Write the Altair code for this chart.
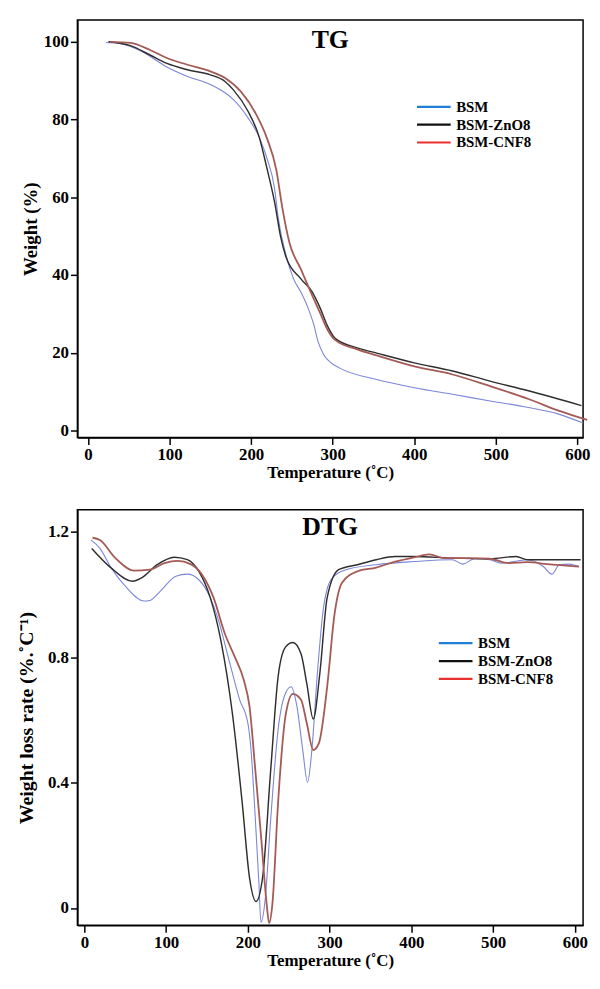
import altair as alt
import pandas as pd

series = ["BSM", "BSM-ZnO8", "BSM-CNF8"]
line_colors = ["#7c86d8", "#2e2e2e", "#a45a55"]
line_widths = [1.1, 1.8, 1.3]
legend_colors = ["#1f7fd8", "#111111", "#e83030"]

x_ticks = [0, 100, 200, 300, 400, 500, 600]
tg_y_ticks = [0, 20, 40, 60, 80, 100]
dtg_y_ticks = [0, 0.4, 0.8, 1.2]

# ---- TG (weight %) ----
tg_bsm_t = [22, 40, 66, 96, 122, 150, 168, 178, 196, 210, 219, 229, 233, 243, 252, 261, 270, 277, 282, 289, 298, 308, 354, 400, 447, 493, 540, 577, 607]
tg_bsm_w = [99.8, 99.5, 97.5, 93.6, 91.1, 89.0, 86.9, 85.2, 80.5, 75.4, 70.3, 61.9, 55.0, 44.9, 39.0, 35.6, 31.4, 27.1, 22.9, 19.5, 17.4, 16.1, 13.1, 11.0, 9.3, 7.6, 5.9, 4.2, 1.9]

tg_zno_t = [25, 52, 76, 96, 122, 150, 168, 178, 196, 210, 219, 229, 236, 243, 261, 275, 284, 294, 303, 331, 354, 400, 447, 493, 540, 605]
tg_zno_w = [100.0, 99.0, 96.6, 94.5, 92.8, 91.5, 89.8, 87.7, 82.2, 75.4, 67.8, 58.5, 50.0, 44.5, 39.0, 35.6, 31.8, 26.7, 23.7, 21.2, 19.9, 17.4, 15.3, 12.7, 10.2, 6.4]

tg_cnf_t = [27, 52, 76, 96, 122, 150, 168, 187, 206, 219, 231, 238, 247, 261, 275, 284, 294, 303, 331, 354, 400, 447, 493, 540, 577, 612]
tg_cnf_w = [100.0, 99.7, 97.9, 95.9, 94.1, 92.4, 90.7, 87.3, 81.4, 75.4, 66.9, 57.6, 48.3, 41.5, 34.7, 30.5, 25.8, 23.3, 20.8, 19.3, 16.5, 14.4, 11.4, 8.1, 5.1, 2.7]

# ---- DTG (weight loss rate) ----
dtg_bsm_t = [8, 19, 33, 52, 73, 80, 93, 112, 126, 140, 154, 163, 177, 190, 200, 204, 209, 213.5, 216, 221, 228, 237, 246, 253, 260, 267, 273, 278, 285, 292, 302, 320, 357, 403, 450, 463, 477, 496, 510, 542, 561, 572, 581, 593, 605]
dtg_bsm_v = [1.174, 1.147, 1.084, 1.021, 0.979, 0.981, 1.011, 1.058, 1.065, 1.047, 0.99, 0.927, 0.79, 0.664, 0.59, 0.50, 0.29, 0.08, -0.045, 0.023, 0.286, 0.57, 0.685, 0.706, 0.643, 0.506, 0.401, 0.496, 0.748, 0.948, 1.048, 1.079, 1.095, 1.105, 1.111, 1.097, 1.114, 1.111, 1.10, 1.111, 1.09, 1.065, 1.095, 1.097, 1.089]

dtg_zno_t = [9, 33, 59, 70, 89, 110, 126, 140, 154, 167, 181, 193, 202, 210, 218, 228, 237, 246, 255, 265, 272, 280, 288, 297, 311, 334, 357, 380, 403, 450, 496, 528, 542, 607]
dtg_zno_v = [1.147, 1.084, 1.042, 1.053, 1.095, 1.119, 1.111, 1.074, 0.99, 0.853, 0.622, 0.338, 0.097, 0.021, 0.097, 0.443, 0.738, 0.832, 0.847, 0.811, 0.717, 0.603, 0.748, 0.99, 1.079, 1.095, 1.111, 1.121, 1.121, 1.116, 1.114, 1.121, 1.111, 1.111]

dtg_cnf_t = [10, 19, 38, 61, 80, 98, 114, 130, 144, 158, 172, 184, 195, 202, 209, 216, 223, 226, 230, 237, 246, 255, 265, 272, 280, 287, 297, 306, 315, 334, 357, 380, 403, 422, 440, 473, 496, 519, 542, 566, 605]
dtg_cnf_v = [1.181, 1.174, 1.116, 1.076, 1.079, 1.10, 1.107, 1.097, 1.063, 0.99, 0.874, 0.801, 0.727, 0.643, 0.443, 0.233, 0.013, -0.048, 0.013, 0.338, 0.612, 0.683, 0.664, 0.59, 0.504, 0.527, 0.706, 0.937, 1.037, 1.074, 1.086, 1.105, 1.118, 1.128, 1.116, 1.116, 1.114, 1.10, 1.103, 1.097, 1.089]


def long_df(pairs):
    rows = []
    for name, ts, vs in pairs:
        for t, v in zip(ts, vs):
            rows.append({"series": name, "T": t, "v": v})
    return pd.DataFrame(rows)


tg_df = long_df([("BSM", tg_bsm_t, tg_bsm_w), ("BSM-ZnO8", tg_zno_t, tg_zno_w), ("BSM-CNF8", tg_cnf_t, tg_cnf_w)])
dtg_df = long_df([("BSM", dtg_bsm_t, dtg_bsm_v), ("BSM-ZnO8", dtg_zno_t, dtg_zno_v), ("BSM-CNF8", dtg_cnf_t, dtg_cnf_v)])

FONT = "Liberation Serif"
W = 510


def panel(df, title, title_off, xdom, ydom, yvals, ytitle, ytsize, ylabel_expr, ytpad, height, lx, ly, xtpad):
    x = alt.X("T:Q", scale=alt.Scale(domain=xdom, nice=False, zero=False),
              axis=alt.Axis(values=x_ticks, title="Temperature  (˚C)", titlePadding=xtpad, format="d"))
    y = alt.Y("v:Q", scale=alt.Scale(domain=ydom, nice=False, zero=False),
              axis=alt.Axis(values=yvals, title=ytitle, titleFontSize=ytsize,
                            labelExpr=ylabel_expr, titlePadding=ytpad))
    lines = alt.Chart(df).mark_line(interpolate="monotone").encode(
        x=x, y=y,
        color=alt.Color("series:N", scale=alt.Scale(domain=series, range=line_colors), legend=None),
        strokeWidth=alt.StrokeWidth("series:N", scale=alt.Scale(domain=series, range=line_widths), legend=None),
        detail="series:N",
    )
    leg = alt.Chart(df).mark_line(opacity=0).encode(
        x=x, y=y,
        color=alt.Color("series:N", scale=alt.Scale(domain=series, range=legend_colors),
                        legend=alt.Legend(title=None, orient="none", legendX=lx, legendY=ly,
                                          symbolType="M-3,0H3", symbolSize=128, symbolStrokeWidth=2.2,
                                          symbolOpacity=1, labelFont=FONT, labelFontWeight="bold",
                                          labelFontSize=15, labelColor="black", labelOffset=15,
                                          rowPadding=2, padding=0)),
    )
    return alt.layer(lines, leg).resolve_scale(color="independent").properties(
        width=W, height=height,
        title=alt.Title(title, fontSize=26, font=FONT, fontWeight="bold", color="black",
                        anchor="middle", offset=title_off),
    )


top = panel(tg_df, "TG", -33, [-13, 607], [-1.8, 105.6], tg_y_ticks, "Weight (%)", 19,
            "format(datum.value, 'd')", 3, 421, 352, 80, 2)
bottom = panel(dtg_df, "DTG", -30, [-8.5, 610], [-0.055, 1.27], dtg_y_ticks,
               "Weight  loss rate  (%.˚C⁻¹)", 20,
               "datum.value == 0 ? '0' : format(datum.value, '.1f')", 11, 419, 374, 127, 3)

chart = alt.vconcat(top, bottom, spacing=28).properties(
    padding={"top": 7, "left": 8, "right": 0, "bottom": 0}
).configure_view(stroke="black", strokeWidth=1.5).configure_axis(
    grid=False, labelFont=FONT, labelFontWeight="bold", labelFontSize=17, labelColor="black",
    titleFont=FONT, titleFontWeight="bold", titleFontSize=19, titleColor="black",
    domainColor="black", domainWidth=1.5, tickColor="black", tickWidth=1.5, tickSize=7, labelPadding=2,
).configure_axisX(titleFontSize=17)

chart.save("out.html", embed_options={"renderer": "svg", "actions": False})
